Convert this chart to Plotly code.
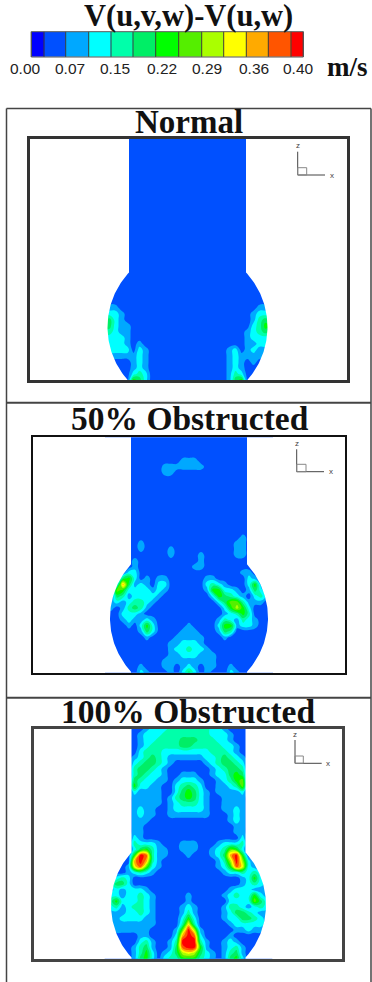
import numpy as np
import plotly.graph_objects as go

W, HT = 372, 982

# Legend
legend_title = "V(u,v,w)-V(u,w)"
legend_unit = "m/s"
legend_labels = ["0.00", "0.07", "0.15", "0.22", "0.29", "0.36", "0.40"]
legend_edges = [31.3, 44, 65.7, 88.7, 111, 133, 155.7, 178.7, 201.7, 223.7, 246.3, 268.3, 291, 303.3]
legend_levels = list(range(13))
level_colors = ["#0000ff", "#0050ff", "#00a8ff", "#00ffff", "#00ffaa", "#00ee66", "#00ff00",
                "#55ee00", "#aaff00", "#ffff00", "#ffaa00", "#ff5500", "#ff0000"]

# Field values as contour level indices: '.'=1 (background), 2-9, a=10, b=11, c=12
E = "..... ..... ..... ..... ..... ...."

normal_rows = [E] * 28 + [
    ".22.. ..... ..... ..... ..... .22.",
    "3332. ..... ..... ..... ..... 2333",
    "4532. ..... ..... ..... ..... 2454",
    "55322 ..... ..... ..... ..... 3465",
    "44322 ..... ..... ..... ....2 3454",
    "33332 ..... ..... ..... ....2 3333",
    "33332 .2... ..... ..... ....2 2333",
    ".3333 .32.. ..... ..... .23.2 322.",
    ".2222 232.. ..... ..... .2322 222.",
    "..... 232.. ..... ..... .232. 2...",
    "..... 232.. ..... ..... .232. ....",
    "..... 343.. ..... ..... .243. ....",
    "..... 653.. ..... ..... .256. ....",
]

half_rows = [E] * 4 + [
    "..... ..... ...22 2.... ..... ....",
    "..... ..... 22222 22... ..... ....",
    "..... ..... 22... ..... ..... ....",
] + [E] * 10 + [
    "..... ..... ..... ..... ...2. ....",
    "..... .2... ..... ..... ..22. ....",
    "..... .2... .2... ..... ..22. ....",
    "..... ..... .2... .2... ..22. ....",
    "..... 2.... ..... .2... ..... ....",
    "..... 2.... ..... 22... ..... ....",
    "....3 3.... ..... ..... ...22 ....",
    "...56 3.2.2 2.... ..22. ....3 2...",
    "..3a5 232.3 3.... ..343 2...3 62..",
    "..763 33323 2.... ..266 332.2 53..",
    "..542 33332 ..... ...36 5432. 342.",
    ".2323 4432. ..... ....3 57742 22..",
    ".2.24 542.. ..... ..... 36863 ....",
    "...33 32... ..... ..... 23464 ....",
    "...23 2232. ..... ....2 43243 2...",
    "....2 .363. ....2 ....3 66233 2...",
    "..... .253. ...22 2...2 54... ....",
    "..... ..2.. ..222 22... 2.... ....",
    "..... ..... .2233 32... ..... ....",
    "..... ..... .2334 332.. ..... ....",
    "..... ..... .2233 3222. ..... ....",
    "..... ..... 22222 2222. ..... ....",
    "..... .2... 22.23 2.22. .2... ....",
    "..... .32.. .2.35 3.2.. .32.. ....",
]

full_rows = [
    "..... ..233 34444 44433 2.... ....",
    "..... .2333 44444 44433 32... ....",
    "..... .2334 44455 54443 32... ....",
    "..... .2344 44455 44444 332.. ....",
    "..... .3444 33333 33344 432.. ....",
    "..... 23454 32222 22334 5432. ....",
    "..... 34554 32... ..234 5543. ....",
    "..... 45543 2.... ...23 4554. ....",
    "..... 45433 2..22 2..23 3565. ....",
    "..... 54332 2.233 32..2 3467. ....",
    "..... 63322 ..345 43..2 2347. ....",
    "..... 32222 ..356 532.2 2223. ....",
    "..... 22222 .2456 532.. 2222. ....",
    "..... 22222 .2344 432.. 2222. ....",
    "..... 2322. .2333 332.. 2232. ....",
    "..... 2322. .2222 222.. .232. ....",
    "..... 222.. ..... ..... .232. ....",
    "..... 22... ..... ..... ..22. ....",
    "..... 22... ..... ..... ..22. ....",
    "..... 32... ..... ..... ...3. ....",
    "..... 43332 ...22 2...2 3334. ....",
    "..... 35642 2..22 2..23 4763. ....",
    "..... 6cb42 2...2 ...23 5ac6. ....",
    "..... aca42 ..... ....2 48c83 ....",
    "....2 9b732 ..... ....2 36b93 2...",
    "....2 3432. ..... ..... 23343 43..",
    ".2343 ..... ..... ..... ...23 63..",
    ".3553 ..... ..... ..... ...23 432.",
    ".2323 332.. ..... ..... .2333 222.",
    ".3323 3432. ....2 ..... 23433 632.",
    ".4633 3432. ....2 ..... .3333 753.",
    ".3423 4432. ...23 2.... 24432 343.",
    ".2223 3432. ...24 2.... 23554 322.",
    ".2233 3322. ...36 3.... 23355 432.",
    ".2222 2222. ...49 4.... .2333 332.",
    "..222 222.. ..27c 82... ..223 22..",
    "..... .22.. ..3ac b3... .2... ....",
    "..... .342. .24cc c42.. 232.. ....",
    "..... 2452. .25bc c62.. 2342. ....",
    "..... 2463. 23589 8532. 2452. ....",
    "..... 2563. 34466 6432. 2563. ....",
]

panel_titles = ["Normal", "50% Obstructed", "100% Obstructed"]
panel_rows = [normal_rows, half_rows, full_rows]

# Layout of the three panels, in page pixels
frames = [(30, 347, 139, 380), (32.7, 345, 437.3, 672.7), (34.3, 342.3, 728.7, 958.7)]
frame_width = [2.5, 1.5, 2.5]
frame_color = ["#333333", "#111111", "#444444"]
vessel = [(187.5, 58.5, 327, 80), (189, 58, 618, 79), (188.5, 57, 905, 77.5)]
title_pos = [(189, 122), (190, 419), (188, 711)]
title_size = [33, 33.5, 33.5]
triads = [(297.7, 175, 151.7, 325, 306.7, 167.7), (296.7, 471.7, 449.3, 324, 306, 464.3),
          (295, 763.3, 740, 321.7, 303.3, 756)]


def parse(rows):
    out = []
    for r in rows:
        s = r.replace(" ", "")
        assert len(s) == 29, r
        out.append([1 if c == "." else int(c, 16) for c in s])
    assert len(out) == 41, len(out)
    return out


def px(x):
    return x / W


def py(y):
    return 1 - y / HT


def stepped(colors):
    n = len(colors)
    out = []
    for i, c in enumerate(colors):
        out += [[i / n, c], [(i + 1) / n, c]]
    return out


steps = stepped(level_colors)
band_steps = stepped(level_colors[1:])

fig = go.Figure()
layout = dict(
    width=W, height=HT, margin=dict(l=0, r=0, t=0, b=0, pad=0), autosize=False,
    paper_bgcolor="white", plot_bgcolor="white", showlegend=False,
)
shapes, notes = [], []

# Legend bar
layout["xaxis"] = dict(domain=[px(legend_edges[0]), px(legend_edges[-1])],
                       range=[legend_edges[0], legend_edges[-1]], visible=False, anchor="y")
layout["yaxis"] = dict(domain=[py(57), py(31.7)], range=[0, 1], visible=False, anchor="x")
fig.add_trace(go.Heatmap(x=legend_edges, y=[0, 1], z=[legend_levels], colorscale=steps, zmin=-0.5,
                         zmax=12.5, showscale=False, hoverinfo="skip", xaxis="x", yaxis="y"))
for e in legend_edges:
    shapes.append(dict(type="line", xref="paper", yref="paper", x0=px(e), x1=px(e), y0=py(31.7), y1=py(57),
                       line=dict(color="#3a3a3a", width=1)))
shapes.append(dict(type="rect", xref="paper", yref="paper", x0=px(legend_edges[0]), x1=px(legend_edges[-1]),
                   y0=py(31.7), y1=py(57), line=dict(color="#555555", width=1)))

notes.append(dict(text=legend_title, x=px(188), y=py(16), xref="paper", yref="paper", showarrow=False,
                  xanchor="center", yanchor="middle",
                  font=dict(family="Liberation Serif", size=30.5, color="#111111", weight="bold")))
for t, x in zip(legend_labels, [25, 70, 115, 162, 207, 254, 298]):
    notes.append(dict(text=t, x=px(x), y=py(69), xref="paper", yref="paper", showarrow=False,
                      xanchor="center", yanchor="middle",
                      font=dict(family="Liberation Sans", size=15.5, color="#222222")))
notes.append(dict(text=legend_unit, x=px(347), y=py(67), xref="paper", yref="paper", showarrow=False,
                  xanchor="center", yanchor="middle",
                  font=dict(family="Liberation Serif", size=27, color="#111111", weight="bold")))

# Panels
cols = (np.arange(29) - 14) * 6.0
for k in range(3):
    L, R_, T, B = frames[k]
    cx, hw, cy_px, rad = vessel[k]
    H = B - T
    cy = cy_px - T
    n = k + 2
    xa, ya = f"x{n}", f"y{n}"
    axis_style = dict(showticklabels=False, ticks="", showgrid=False, zeroline=False, showline=True, mirror=True,
                      linecolor=frame_color[k], linewidth=frame_width[k])
    layout[f"xaxis{n}"] = dict(domain=[px(L), px(R_)], range=[L - cx, R_ - cx], anchor=ya, **axis_style)
    layout[f"yaxis{n}"] = dict(domain=[py(B), py(T)], range=[H, 0], anchor=xa, **axis_style)
    ys = np.arange(41) * H / 40
    fig.add_trace(go.Contour(
        x=cols, y=ys, z=parse(panel_rows[k]), colorscale=band_steps, zmin=0.5, zmax=12.5, zauto=False,
        autocontour=False,
        contours=dict(start=0.5, end=12.5, size=1, coloring="fill", showlines=False),
        line=dict(width=0, smoothing=1.3), showscale=False, hoverinfo="skip", xaxis=xa, yaxis=ya,
    ))
    # vessel outline: white masks either side
    th0 = np.arcsin(hw / rad)
    th = np.linspace(th0, np.pi - th0, 80)
    arc_x = rad * np.sin(th)
    arc_y = cy - rad * np.cos(th)
    for sgn in (-1, 1):
        mx = [sgn * hw] + list(sgn * arc_x) + [sgn * hw, sgn * 100, sgn * 100, sgn * hw]
        my = [-5] + list(arc_y) + [H + 10, H + 10, -5, -5]
        fig.add_trace(go.Scatter(x=mx, y=my, mode="lines", fill="toself", fillcolor="white",
                                 line=dict(width=0, color="white"), hoverinfo="skip", xaxis=xa, yaxis=ya))
    # title
    tx, ty = title_pos[k]
    notes.append(dict(text=panel_titles[k], x=px(tx), y=py(ty), xref="paper", yref="paper", showarrow=False,
                      xanchor="center", yanchor="middle",
                      font=dict(family="Liberation Serif", size=title_size[k], color="#111111", weight="bold")))
    # axis triad
    ox, oy, zt, xe, sx, sy = triads[k]
    for (a, b, c, d) in [(ox, oy, ox, zt), (ox, oy, xe, oy)]:
        shapes.append(dict(type="line", xref="paper", yref="paper", x0=px(a), y0=py(b), x1=px(c), y1=py(d),
                           line=dict(color="#444444", width=1)))
    shapes.append(dict(type="rect", xref="paper", yref="paper", x0=px(ox), y0=py(oy), x1=px(sx), y1=py(sy),
                       line=dict(color="#888888", width=1)))
    notes.append(dict(text="z", x=px(ox), y=py(zt - 6), xref="paper", yref="paper", showarrow=False,
                      xanchor="center", yanchor="middle",
                      font=dict(family="Liberation Sans", size=8, color="#444444")))
    notes.append(dict(text="x", x=px(xe + 6.5), y=py(oy), xref="paper", yref="paper", showarrow=False,
                      xanchor="center", yanchor="middle",
                      font=dict(family="Liberation Sans", size=8, color="#444444")))

# Outer box lines
for (a, b, c, d, w) in [(6.5, 108.5, 6.5, 982, 1.5), (371, 108.5, 371, 982, 1.5), (6.5, 108.5, 371, 108.5, 1.5),
                        (6.5, 402.7, 371, 402.7, 2), (6.5, 697.7, 371, 697.7, 2)]:
    shapes.append(dict(type="line", xref="paper", yref="paper", x0=px(a), y0=py(b), x1=px(c), y1=py(d),
                       line=dict(color="#444444", width=w)))

layout["shapes"] = shapes
layout["annotations"] = notes
fig.update_layout(**layout)
fig.write_html("out.html", config=dict(displayModeBar=False),
               post_script="document.body.style.margin='0';document.body.style.overflow='hidden';")
